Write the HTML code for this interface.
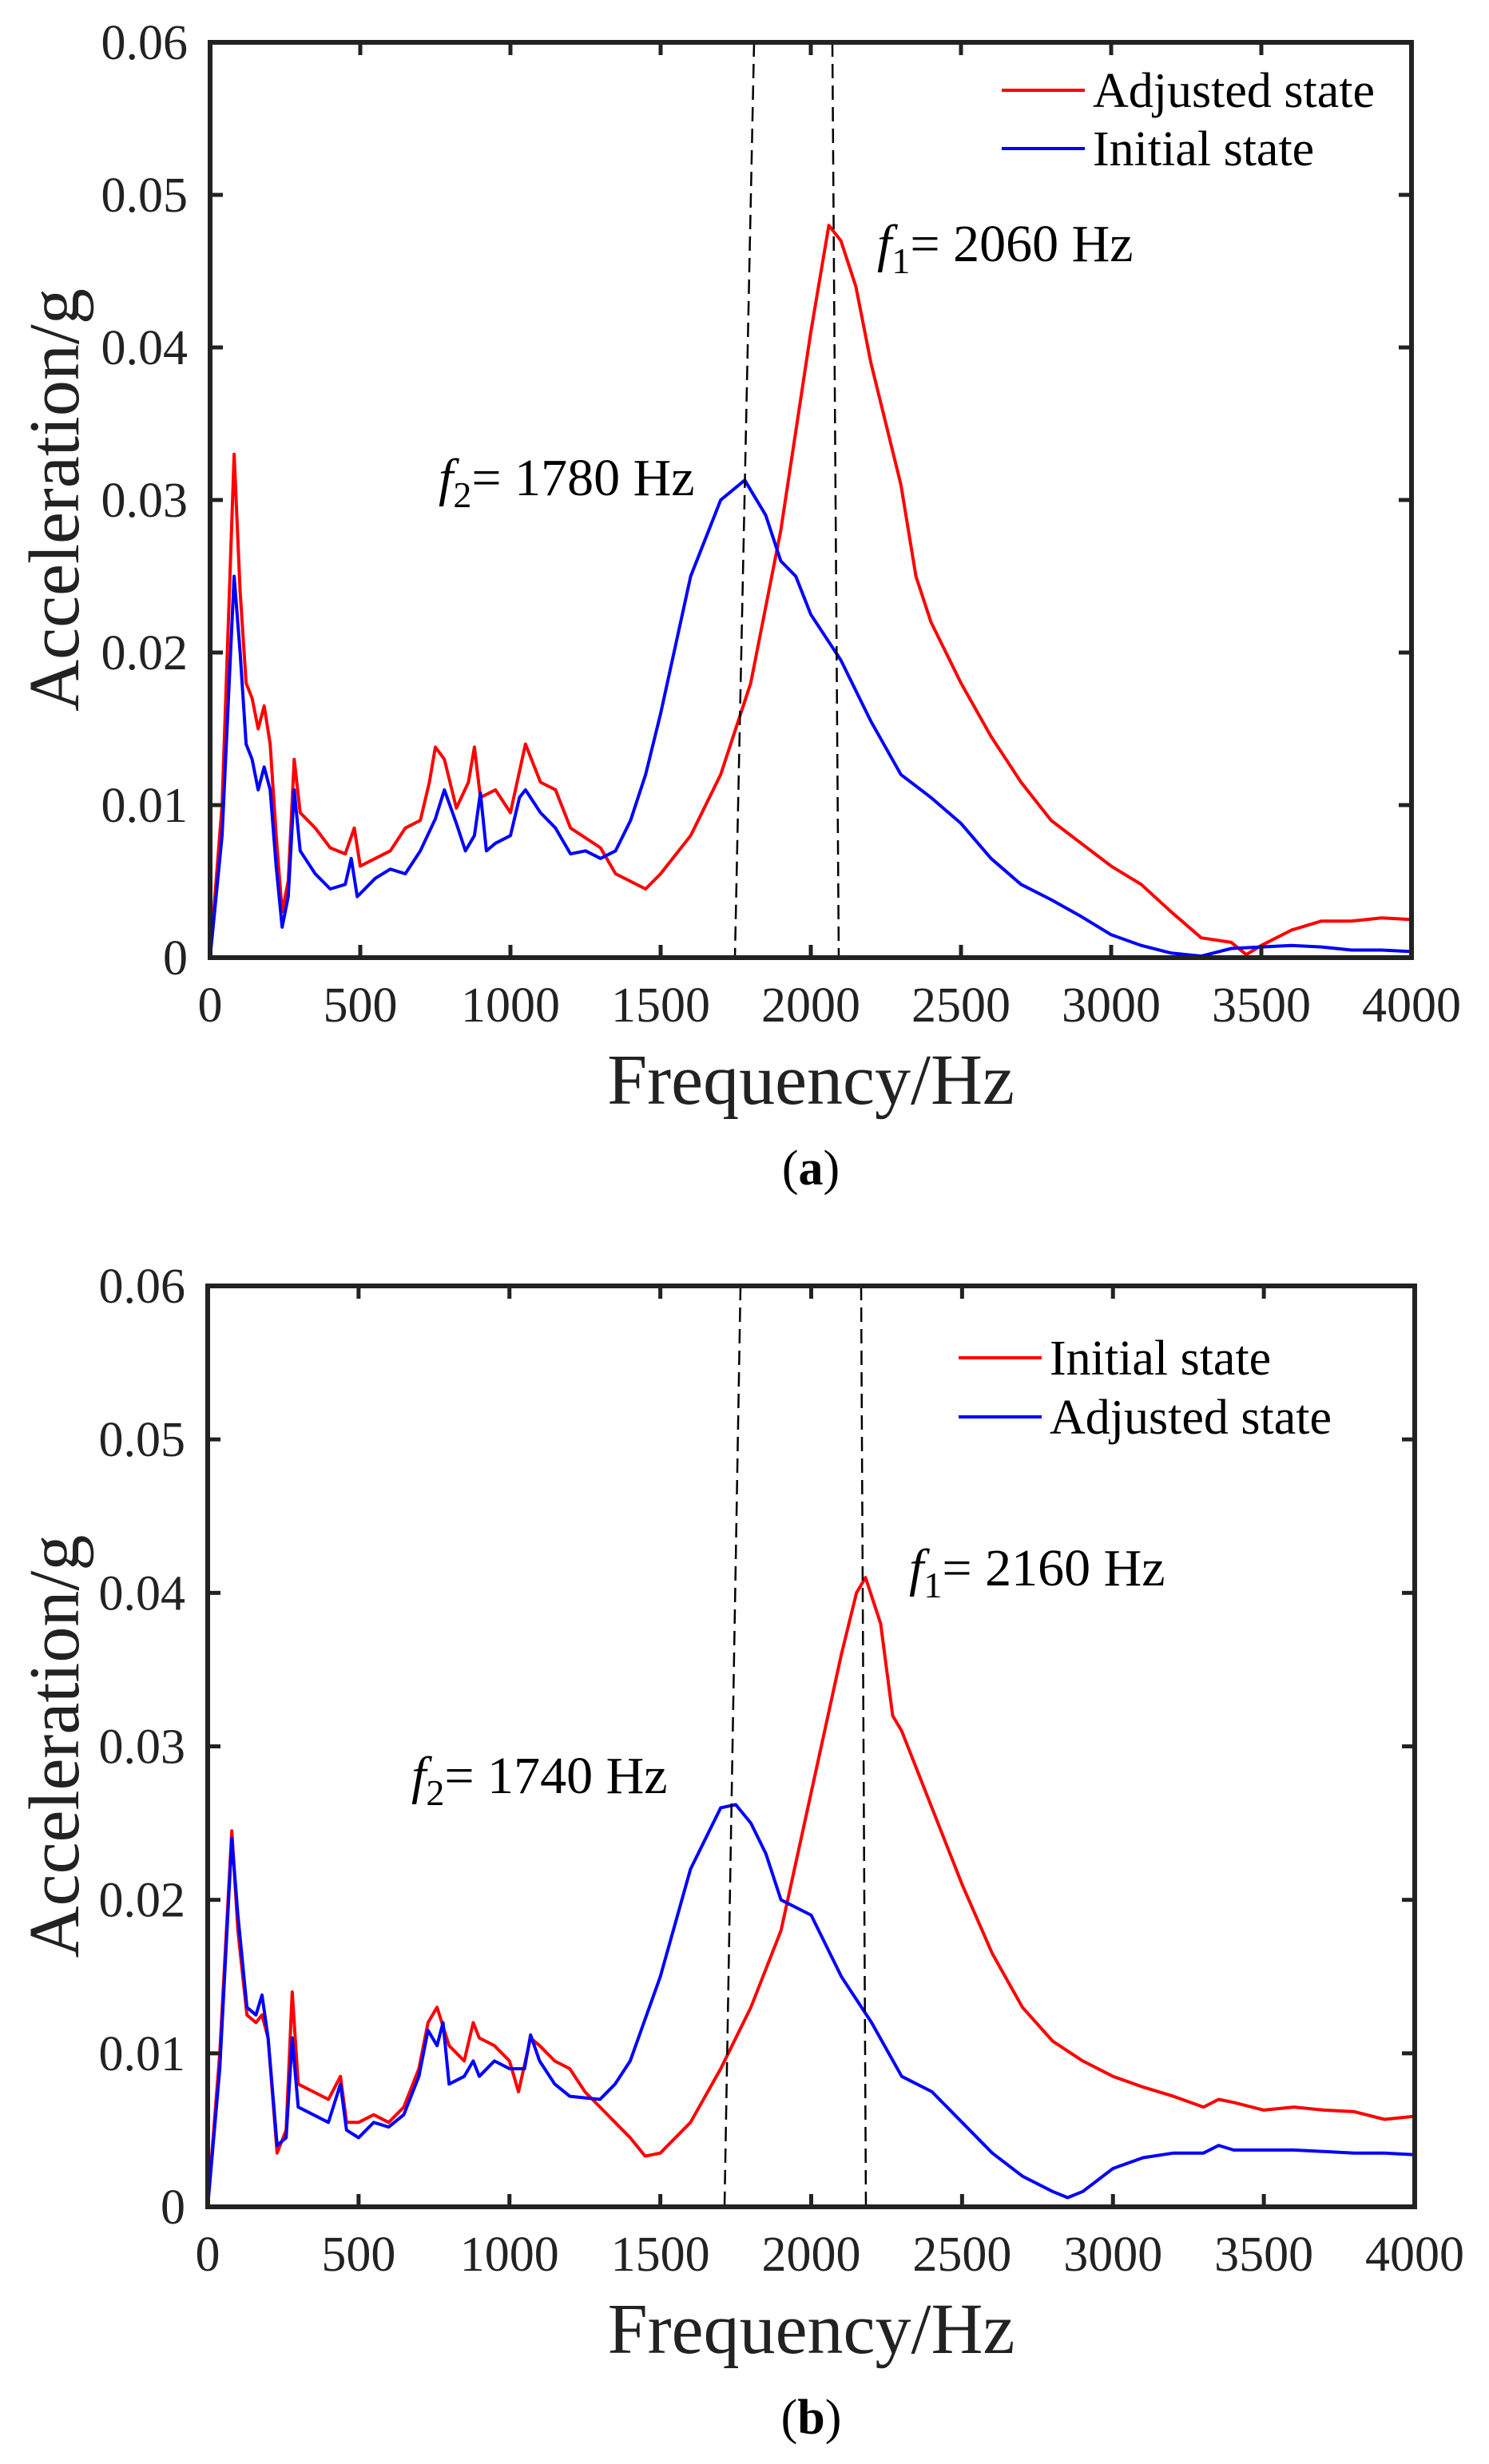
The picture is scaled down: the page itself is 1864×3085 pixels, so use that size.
<!DOCTYPE html>
<html><head><meta charset="utf-8"><style>
html,body{margin:0;padding:0;background:#fff;}
svg{display:block;font-family:"Liberation Serif","Times New Roman",serif;}
</style></head><body>
<svg id="fig" width="1864" height="3085" viewBox="0 0 1864 3085" xmlns="http://www.w3.org/2000/svg"></svg>
<script>
// ---- data: panel (a) ----
const freqA_red = [0,40,80,100,120,140,160,180,200,220,240,260,280,300,350,400,450,480,500,550,600,650,700,730,750,780,820,860,880,900,950,1000,1050,1100,1150,1200,1300,1350,1400,1450,1500,1600,1700,1800,1900,2000,2060,2100,2150,2200,2300,2350,2400,2500,2600,2700,2800,2900,3000,3100,3200,3300,3400,3450,3500,3600,3700,3800,3900,4000];
const accA_red = [0,0.01,0.033,0.024,0.018,0.017,0.015,0.0165,0.014,0.008,0.003,0.005,0.013,0.0095,0.0085,0.0072,0.0068,0.0085,0.006,0.0065,0.007,0.0085,0.009,0.0115,0.0138,0.013,0.0098,0.0115,0.0138,0.0105,0.011,0.0095,0.014,0.0115,0.011,0.0085,0.0072,0.0055,0.005,0.0045,0.0055,0.008,0.012,0.018,0.028,0.041,0.048,0.047,0.044,0.039,0.031,0.025,0.022,0.018,0.0145,0.0115,0.009,0.0075,0.006,0.0048,0.003,0.0013,0.001,0.0002,0.0008,0.0018,0.0024,0.0024,0.0026,0.0025];
const freqA_blue = [0,40,80,100,120,140,160,180,200,220,240,260,280,300,350,400,450,470,490,550,600,650,700,750,780,820,850,880,900,920,950,1000,1030,1050,1100,1150,1200,1250,1300,1350,1400,1450,1500,1600,1700,1780,1850,1900,1950,2000,2100,2200,2300,2400,2500,2600,2700,2800,2900,3000,3100,3200,3300,3400,3500,3600,3700,3800,3900,4000];
const accA_blue = [0,0.008,0.025,0.02,0.014,0.013,0.011,0.0125,0.011,0.006,0.002,0.004,0.011,0.007,0.0055,0.0045,0.0048,0.0065,0.004,0.0052,0.0058,0.0055,0.007,0.0091,0.011,0.0088,0.007,0.008,0.0108,0.007,0.0075,0.008,0.0105,0.011,0.0095,0.0085,0.0068,0.007,0.0065,0.007,0.009,0.012,0.016,0.025,0.030,0.0313,0.029,0.026,0.025,0.0225,0.0195,0.0155,0.012,0.0105,0.0088,0.0065,0.0048,0.0038,0.0027,0.0015,0.0008,0.0003,0.0001,0.0006,0.0007,0.0008,0.0007,0.0005,0.0005,0.0004];
// ---- data: panel (b) ----
const freqB_red = [0,40,80,100,130,160,180,200,230,260,280,300,350,400,440,460,500,550,600,650,700,730,760,800,850,880,900,950,1000,1030,1070,1100,1150,1200,1250,1300,1350,1400,1450,1500,1600,1700,1800,1900,2000,2100,2150,2180,2230,2270,2300,2400,2500,2600,2700,2800,2900,3000,3100,3200,3300,3350,3400,3500,3600,3700,3800,3900,4000];
const accB_red = [0,0.01,0.0245,0.018,0.0125,0.012,0.0125,0.011,0.0035,0.005,0.014,0.008,0.0075,0.007,0.0085,0.0055,0.0055,0.006,0.0055,0.0065,0.009,0.012,0.013,0.0105,0.0095,0.012,0.011,0.0105,0.0095,0.0075,0.011,0.0105,0.0095,0.009,0.0075,0.0065,0.0055,0.0045,0.0033,0.0035,0.0055,0.009,0.013,0.018,0.027,0.036,0.040,0.041,0.038,0.032,0.031,0.026,0.021,0.0165,0.013,0.0108,0.0095,0.0085,0.0078,0.0072,0.0065,0.007,0.0068,0.0063,0.0065,0.0063,0.0062,0.0057,0.0059];
const freqB_blue = [0,40,80,100,130,160,180,200,230,260,280,300,350,400,440,460,500,550,600,650,700,730,760,780,800,850,880,900,950,1000,1050,1070,1100,1150,1200,1300,1350,1400,1500,1600,1700,1750,1800,1850,1900,2000,2100,2200,2300,2400,2500,2600,2700,2800,2850,2900,3000,3100,3200,3300,3350,3400,3500,3600,3700,3800,3900,4000];
const accB_blue = [0,0.009,0.024,0.019,0.013,0.0125,0.0138,0.011,0.004,0.0045,0.011,0.0065,0.006,0.0055,0.008,0.005,0.0045,0.0055,0.0052,0.006,0.0085,0.0115,0.0105,0.012,0.008,0.0085,0.0095,0.0085,0.0095,0.009,0.009,0.0112,0.0095,0.008,0.0072,0.007,0.008,0.0095,0.015,0.022,0.026,0.0262,0.025,0.023,0.020,0.019,0.015,0.012,0.0085,0.0075,0.0055,0.0035,0.002,0.001,0.0006,0.001,0.0025,0.0032,0.0035,0.0035,0.004,0.0037,0.0037,0.0037,0.0036,0.0035,0.0035,0.0034];
// ---- ticks ----
const xTicks = [0,500,1000,1500,2000,2500,3000,3500,4000];
const yTicks = [0,0.01,0.02,0.03,0.04,0.05,0.06];
const yTickLabels = ["0","0.01","0.02","0.03","0.04","0.05","0.06"];

const NS="http://www.w3.org/2000/svg";
const svg=document.getElementById('fig');
function el(tag,attrs,parent){const e=document.createElementNS(NS,tag);for(const k in attrs)e.setAttribute(k,attrs[k]);(parent||svg).appendChild(e);return e;}

function panel(cfg){
  const g=el('g',{});
  
  
  const X=f=>cfg.x0+f/4000*(cfg.x1-cfg.x0);
  const Y=v=>cfg.y1-v/0.06*(cfg.y1-cfg.y0);
  cfg.series.forEach(s=>{
    const d=s.f.map((f,i)=>(i?'L':'M')+X(f).toFixed(1)+' '+Y(s.v[i]).toFixed(1)).join(' ');
    const p=el('path',{d:d,fill:'none',stroke:s.color,'stroke-width':4,'stroke-linejoin':'round'},g);
    
    
  });
  cfg.dashes.forEach((dl,i)=>{
    const l=el('line',{x1:dl[0],y1:cfg.y0,x2:dl[1],y2:cfg.y1,stroke:'#000','stroke-width':2.5,'stroke-dasharray':'18 9'},g);
    
    
  });
  const fr=el('rect',{x:cfg.x0,y:cfg.y0,width:cfg.x1-cfg.x0,height:cfg.y1-cfg.y0,fill:'none',stroke:'#222','stroke-width':6},g);
  
  
  xTicks.forEach(t=>{
    const x=X(t);
    el('line',{x1:x,y1:cfg.y1,x2:x,y2:cfg.y1-16,stroke:'#222','stroke-width':5},g);
    el('line',{x1:x,y1:cfg.y0,x2:x,y2:cfg.y0+16,stroke:'#222','stroke-width':5},g);
    const tx=el('text',{x:x,y:cfg.y1+80,'font-size':62,'text-anchor':'middle',fill:'#222'},g);
    tx.textContent=t;
    
    
  });
  yTicks.forEach((t,i)=>{
    const y=Y(t);
    el('line',{x1:cfg.x0,y1:y,x2:cfg.x0+16,y2:y,stroke:'#222','stroke-width':5},g);
    el('line',{x1:cfg.x1,y1:y,x2:cfg.x1-16,y2:y,stroke:'#222','stroke-width':5},g);
    const tx=el('text',{x:cfg.x0-28,y:y+21,'font-size':62,'text-anchor':'end',fill:'#222'},g);
    tx.textContent=yTickLabels[i];
    
    
  });
  const xt=el('text',{x:(cfg.x0+cfg.x1)/2,y:cfg.y1+183,'font-size':90,'text-anchor':'middle',fill:'#222'},g);
  xt.textContent='Frequency/Hz';
  
  
  const yc=(cfg.y0+cfg.y1)/2;
  const yt=el('text',{x:0,y:0,'font-size':90,'text-anchor':'middle',fill:'#222',transform:`translate(98 ${yc}) rotate(-90)`},g);
  yt.textContent='Acceleration/g';
  
  
  const cp=el('text',{x:(cfg.x0+cfg.x1)/2,y:cfg.y1+284,'font-size':62,'text-anchor':'middle',fill:'#000'},g);
  cp.innerHTML='(<tspan font-weight="bold">'+cfg.cap+'</tspan>)';
  
  
  cfg.legend.forEach((lg,i)=>{
    const y=cfg.legY[i];
    const ln=el('line',{x1:cfg.legX,y1:y,x2:cfg.legX+104,y2:y,stroke:lg.color,'stroke-width':4},g);
    
    
    const t=el('text',{x:cfg.legX+114,y:y+21,'font-size':62,fill:'#000'},g);
    t.textContent=lg.label;
    
    
  });
  cfg.ann.forEach(a=>{
    const t=el('text',{x:a.x,y:a.y,'font-size':66,fill:'#000'},g);
    t.innerHTML='<tspan font-style="italic">f</tspan><tspan font-size="46" dy="15">'+a.sub+'</tspan><tspan dy="-15">= '+a.txt+'</tspan>';
    
    
  });
}

panel({name:'panel-a',x0:263,x1:1767,y0:53,y1:1199,cap:'a',
  series:[{name:'adjusted-state-line',f:freqA_red,v:accA_red,color:'#ff0000'},{name:'initial-state-line',f:freqA_blue,v:accA_blue,color:'#0000ff'}],
  dashes:[[944,920],[1042,1050]],
  legX:1254,legY:[113,186],legend:[{label:'Adjusted state',color:'#ff0000'},{label:'Initial state',color:'#0000ff'}],
  ann:[{x:1098,y:327,sub:'1',txt:'2060 Hz'},{x:549,y:620,sub:'2',txt:'1780 Hz'}]});

panel({name:'panel-b',x0:260,x1:1771,y0:1610,y1:2763,cap:'b',
  series:[{name:'initial-state-line',f:freqB_red,v:accB_red,color:'#ff0000'},{name:'adjusted-state-line',f:freqB_blue,v:accB_blue,color:'#0000ff'}],
  dashes:[[927,907],[1078,1084]],
  legX:1200,legY:[1700,1774],legend:[{label:'Initial state',color:'#ff0000'},{label:'Adjusted state',color:'#0000ff'}],
  ann:[{x:1138,y:1985,sub:'1',txt:'2160 Hz'},{x:515,y:2245,sub:'2',txt:'1740 Hz'}]});
</script>
</body></html>
